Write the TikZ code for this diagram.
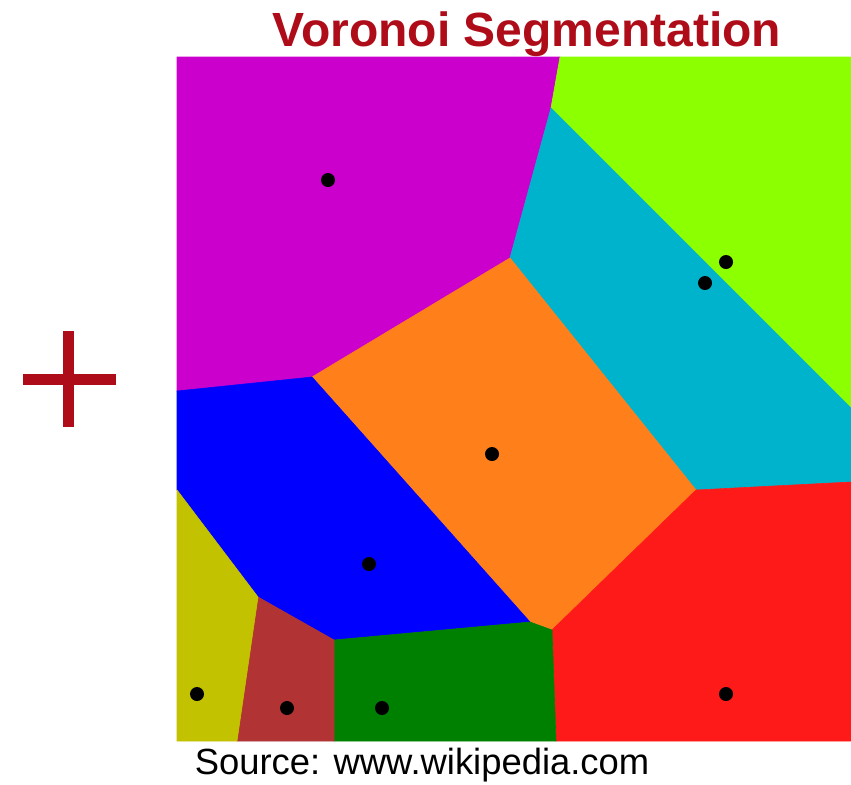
\documentclass[tikz,border=0pt]{standalone}
\usepackage{fontspec}
\setmainfont{Liberation Sans}
\usepackage{xcolor}

\definecolor{titlered}{RGB}{174,12,24}
\definecolor{cellmagenta}{RGB}{204,0,204}
\definecolor{celllime}{RGB}{140,255,0}
\definecolor{cellcyan}{RGB}{0,179,204}
\definecolor{cellorange}{RGB}{255,128,26}
\definecolor{cellred}{RGB}{255,26,26}
\definecolor{cellblue}{RGB}{0,0,255}
\definecolor{cellgreen}{RGB}{0,128,0}
\definecolor{cellbrown}{RGB}{178,51,51}
\definecolor{cellolive}{RGB}{194,194,0}

\tikzset{
  cell/.style={draw=#1, line width=0.3pt, fill=#1},
  seed/.style={circle, fill=black, inner sep=0pt, minimum size=7pt},
}

\begin{document}
\begin{tikzpicture}[x=0.5pt, y=-0.5pt]
\useasboundingbox (0,0) rectangle (851,784);

% corners of the square
\coordinate (tl) at (177,57);
\coordinate (tr) at (851,57);
\coordinate (br) at (851,741);
\coordinate (bl) at (177,741);
% cell vertices
\coordinate (va) at (560,57);
\coordinate (vb) at (551,108);
\coordinate (vc) at (510,258);
\coordinate (vd) at (312,377);
\coordinate (ve) at (177,391);
\coordinate (vf) at (851,408);
\coordinate (vg) at (696,490);
\coordinate (vh) at (851,482);
\coordinate (vi) at (530,622);
\coordinate (vj) at (552,630);
\coordinate (vk) at (556,741);
\coordinate (vl) at (334,640);
\coordinate (vm) at (334,741);
\coordinate (vn) at (258,597);
\coordinate (vo) at (177,490);
\coordinate (vp) at (237,741);

% cells
\filldraw[cell=cellmagenta] (tl) -- (va) -- (vb) -- (vc) -- (vd) -- (ve) -- cycle;
\filldraw[cell=celllime] (va) -- (tr) -- (vf) -- (vb) -- cycle;
\filldraw[cell=cellcyan] (vb) -- (vf) -- (vh) -- (vg) -- (vc) -- cycle;
\filldraw[cell=cellorange] (vc) -- (vg) -- (vj) -- (vi) -- (vd) -- cycle;
\filldraw[cell=cellred] (vg) -- (vh) -- (br) -- (vk) -- (vj) -- cycle;
\filldraw[cell=cellblue] (ve) -- (vd) -- (vi) -- (vl) -- (vn) -- (vo) -- cycle;
\filldraw[cell=cellgreen] (vl) -- (vi) -- (vj) -- (vk) -- (vm) -- cycle;
\filldraw[cell=cellbrown] (vn) -- (vl) -- (vm) -- (vp) -- cycle;
\filldraw[cell=cellolive] (vo) -- (vn) -- (vp) -- (bl) -- cycle;

% seeds
\foreach \sx/\sy [count=\k] in {328/180, 726/262, 705/283, 492/454, 369/564,
    197/694, 287/708, 382/708, 726/694}
  \node[seed] (s\k) at (\sx,\sy) {};

% plus sign
\coordinate (plusw) at (23,379);
\coordinate (pluse) at (116,379);
\coordinate (plusn) at (68,331);
\coordinate (pluss) at (68,427);
\draw[titlered, line width=5.5pt] (plusw) -- (pluse);
\draw[titlered, line width=5.5pt] (plusn) -- (pluss);

% texts
\node[anchor=base, inner sep=0pt, text=titlered, font=\fontsize{24}{28}\selectfont\bfseries]
  (title) at (527,46) {Voronoi Segmentation};
\node[anchor=base, inner sep=0pt, font=\fontsize{18.2}{22}\selectfont]
  (source) at (422,774) {Source: www.wikipedia.com};
\end{tikzpicture}
\end{document}
